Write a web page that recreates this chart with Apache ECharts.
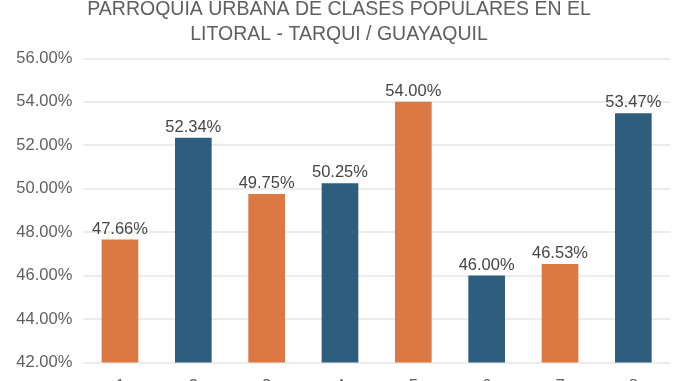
<!DOCTYPE html>
<html><head><meta charset="utf-8">
<script src="https://cdn.jsdelivr.net/npm/echarts@6/dist/echarts.min.js"></script>
<style>html,body{margin:0;padding:0;background:#fff}#c{width:678px;height:381px}</style>
</head><body><div id="c"></div>
<script>
var categories = ['1','2','3','4','5','6','7','8'];
var values = [47.66, 52.34, 49.75, 50.25, 54.00, 46.00, 46.53, 53.47];
var barColors = ['#DC7843','#2E5E7E','#DC7843','#2E5E7E','#DC7843','#2E5E7E','#DC7843','#2E5E7E'];
var titleLines = ['PARROQUIA URBANA DE CLASES POPULARES EN EL','LITORAL - TARQUI / GUAYAQUIL'];

var chart = echarts.init(document.getElementById('c'));
chart.setOption({
  animation: false,
  title: {
    text: titleLines.join('\n'),
    left: 'center', top: -8,
    textStyle: {fontFamily: 'Liberation Sans', fontSize: 19.5, fontWeight: 'normal', color: '#5f5f5f', lineHeight: 25}
  },
  grid: {left: 83.3, right: 8, top: 58.3, bottom: 18.5, containLabel: false, outerBoundsMode: 'none'},
  xAxis: {
    type: 'category', data: categories,
    axisLine: {show: false}, axisTick: {show: false},
    axisLabel: {fontFamily: 'Liberation Sans', fontSize: 16.5, color: '#5f5f5f', margin: 15}
  },
  yAxis: {
    type: 'value', min: 42, max: 56, interval: 2,
    axisLabel: {fontFamily: 'Liberation Sans', fontSize: 16.5, color: '#5f5f5f', margin: 11,
      formatter: function(v){ return v.toFixed(2) + '%'; }},
    splitLine: {lineStyle: {color: '#E6E6E6', width: 1.5}},
    axisLine: {show: false}, axisTick: {show: false}
  },
  series: [{
    type: 'bar', barWidth: '50%',
    data: values.map(function(v, i){ return {value: v, itemStyle: {color: barColors[i]}}; }),
    label: {show: true, position: 'top', distance: 2, fontFamily: 'Liberation Sans', fontSize: 16.5, color: '#454545',
      formatter: function(p){ return p.value.toFixed(2) + '%'; }}
  }]
});
</script></body></html>
